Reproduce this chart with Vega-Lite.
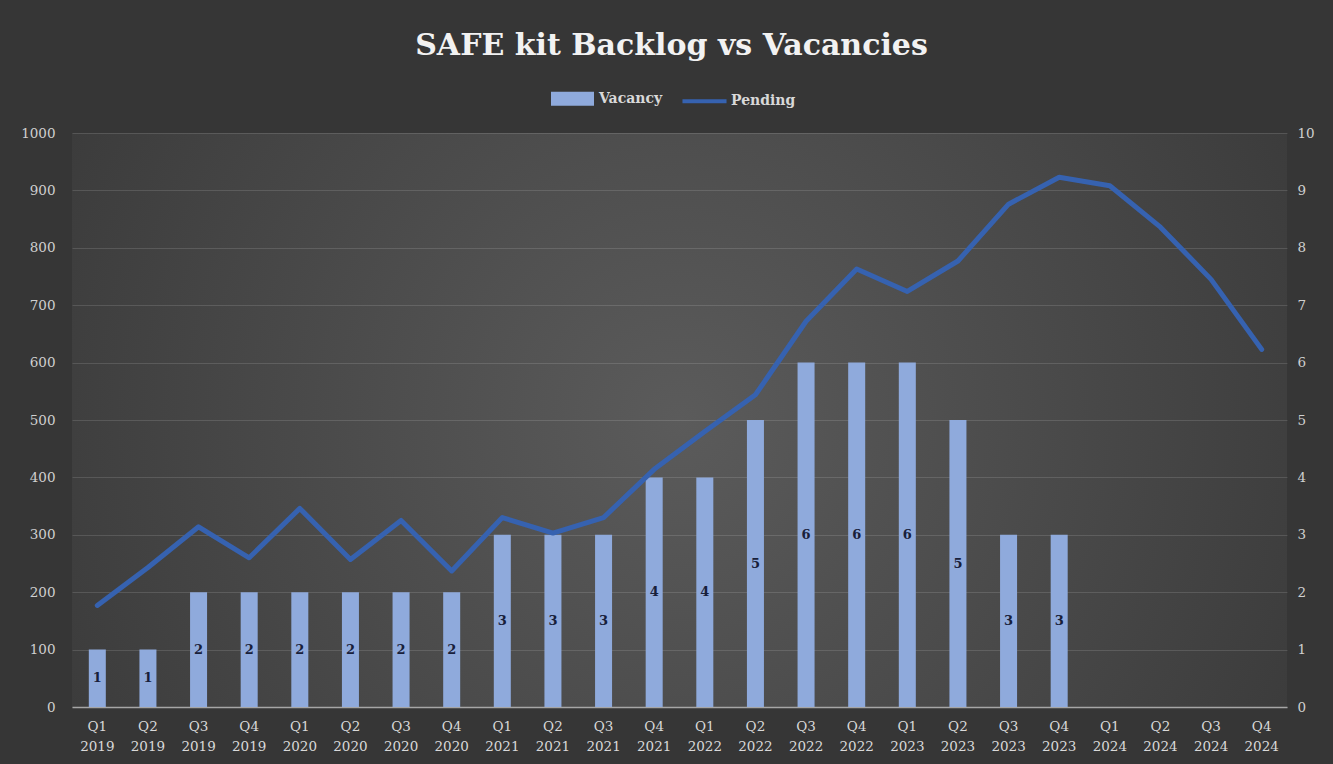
{
  "$schema": "https://vega.github.io/schema/vega-lite/v6.json",
  "width": 1215,
  "height": 574,
  "autosize": {"type": "none"},
  "padding": {"left": 72, "top": 133, "right": 46, "bottom": 57},
  "background": "#363636",
  "view": {
    "stroke": null,
    "fill": {
      "gradient": "radial",
      "x1": 0.5, "y1": 0.5, "x2": 0.5, "y2": 0.5, "r1": 0, "r2": 0.75,
      "stops": [
        {"offset": 0, "color": "#5b5b5b"},
        {"offset": 1, "color": "#313131"}
      ]
    }
  },
  "title": {
    "text": "SAFE kit Backlog vs Vacancies",
    "font": "DejaVu Serif",
    "fontSize": 30,
    "fontWeight": "bold",
    "color": "#f2f2f2",
    "anchor": "middle",
    "baseline": "alphabetic",
    "offset": -8,
    "dx": -8
  },
  "data": {
    "values": [
      {"quarter": "Q1 2019", "vacancy": 1, "pending": 177},
      {"quarter": "Q2 2019", "vacancy": 1, "pending": 243},
      {"quarter": "Q3 2019", "vacancy": 2, "pending": 314},
      {"quarter": "Q4 2019", "vacancy": 2, "pending": 260},
      {"quarter": "Q1 2020", "vacancy": 2, "pending": 346},
      {"quarter": "Q2 2020", "vacancy": 2, "pending": 257},
      {"quarter": "Q3 2020", "vacancy": 2, "pending": 325},
      {"quarter": "Q4 2020", "vacancy": 2, "pending": 237},
      {"quarter": "Q1 2021", "vacancy": 3, "pending": 330},
      {"quarter": "Q2 2021", "vacancy": 3, "pending": 303},
      {"quarter": "Q3 2021", "vacancy": 3, "pending": 330},
      {"quarter": "Q4 2021", "vacancy": 4, "pending": 414},
      {"quarter": "Q1 2022", "vacancy": 4, "pending": 480},
      {"quarter": "Q2 2022", "vacancy": 5, "pending": 544},
      {"quarter": "Q3 2022", "vacancy": 6, "pending": 672},
      {"quarter": "Q4 2022", "vacancy": 6, "pending": 763},
      {"quarter": "Q1 2023", "vacancy": 6, "pending": 724},
      {"quarter": "Q2 2023", "vacancy": 5, "pending": 777},
      {"quarter": "Q3 2023", "vacancy": 3, "pending": 876},
      {"quarter": "Q4 2023", "vacancy": 3, "pending": 923},
      {"quarter": "Q1 2024", "vacancy": null, "pending": 908},
      {"quarter": "Q2 2024", "vacancy": null, "pending": 836},
      {"quarter": "Q3 2024", "vacancy": null, "pending": 745},
      {"quarter": "Q4 2024", "vacancy": null, "pending": 623}
    ]
  },
  "encoding": {
    "x": {
      "field": "quarter",
      "type": "ordinal",
      "sort": null,
      "scale": {"paddingInner": 0.664},
      "axis": {
        "title": null,
        "labelAngle": 0,
        "labelExpr": "split(datum.value, ' ')",
        "labelLineHeight": 20,
        "labelPadding": 12,
        "labelFont": "DejaVu Serif",
        "labelFontSize": 13.5,
        "labelColor": "#d9d9d9",
        "ticks": false,
        "domain": true,
        "domainColor": "#a6a6a6",
        "domainWidth": 1.5,
        "grid": false
      }
    }
  },
  "layer": [
    {
      "mark": {"type": "bar", "opacity": 1},
      "encoding": {
        "y": {
          "field": "vacancy",
          "type": "quantitative",
          "scale": {"domain": [0, 10]},
          "axis": {
            "orient": "right",
            "title": null,
            "values": [0, 1, 2, 3, 4, 5, 6, 7, 8, 9, 10],
            "grid": false,
            "domain": false,
            "ticks": false,
            "labelPadding": 10,
            "labelFont": "DejaVu Serif",
            "labelFontSize": 13.5,
            "labelColor": "#d0d0d0"
          }
        },
        "color": {
          "datum": "Vacancy",
          "type": "nominal",
          "scale": {"domain": ["Vacancy", "Pending"], "range": ["#8faadc", "#3662b0"]},
          "legend": {
            "encode": {
              "symbols": {
                "update": {
                  "shape": {"signal": "datum.value === 'Vacancy' ? 'M-1,-0.256H1V0.256H-1Z' : 'M-1.13,0H1.13'"},
                  "fill": {"signal": "datum.value === 'Vacancy' ? '#8faadc' : 'transparent'"},
                  "stroke": {"signal": "datum.value === 'Vacancy' ? 'transparent' : '#2f5597'"},
                  "strokeWidth": {"value": 4},
                  "opacity": {"value": 1}
                }
              }
            }
          }
        }
      }
    },
    {
      "mark": {
        "type": "text",
        "font": "DejaVu Serif",
        "fontSize": 13,
        "fontWeight": "bold",
        "color": "#18203a",
        "baseline": "middle",
        "align": "center"
      },
      "encoding": {
        "y": {
          "field": "vacancy",
          "type": "quantitative",
          "scale": {"domain": [0, 20]},
          "axis": null
        },
        "text": {"field": "vacancy", "type": "quantitative"}
      }
    },
    {
      "mark": {"type": "line", "strokeWidth": 5, "strokeCap": "round", "strokeJoin": "round"},
      "encoding": {
        "y": {
          "field": "pending",
          "type": "quantitative",
          "scale": {"domain": [0, 1000]},
          "axis": {
            "orient": "left",
            "title": null,
            "format": "d",
            "values": [0, 100, 200, 300, 400, 500, 600, 700, 800, 900, 1000],
            "grid": true,
            "gridColor": "#ffffff",
            "gridOpacity": 0.13,
            "gridWidth": 1,
            "domain": false,
            "ticks": false,
            "labelPadding": 17,
            "labelFont": "DejaVu Serif",
            "labelFontSize": 13.5,
            "labelColor": "#d0d0d0"
          }
        },
        "color": {
          "datum": "Pending",
          "type": "nominal",
          "legend": {
            "encode": {
              "symbols": {
                "update": {
                  "shape": {"signal": "datum.value === 'Vacancy' ? 'M-1,-0.256H1V0.256H-1Z' : 'M-1.13,0H1.13'"},
                  "fill": {"signal": "datum.value === 'Vacancy' ? '#8faadc' : 'transparent'"},
                  "stroke": {"signal": "datum.value === 'Vacancy' ? 'transparent' : '#2f5597'"},
                  "strokeWidth": {"value": 4},
                  "opacity": {"value": 1}
                }
              }
            }
          }
        }
      }
    }
  ],
  "resolve": {"scale": {"y": "independent"}, "axis": {"y": "independent"}},
  "config": {
    "axis": {"zindex": 0},
    "legend": {
      "orient": "none",
      "legendX": 479,
      "legendY": -56,
      "direction": "horizontal",
      "title": null,
      "symbolSize": 1521,
      "columnPadding": 11,
      "labelOffset": 5,
      "labelFont": "DejaVu Serif",
      "labelFontSize": 14,
      "labelFontWeight": "bold",
      "labelColor": "#d9d9d9",
      "symbolStrokeWidth": 4,
      "symbolOpacity": 1
    }
  }
}
